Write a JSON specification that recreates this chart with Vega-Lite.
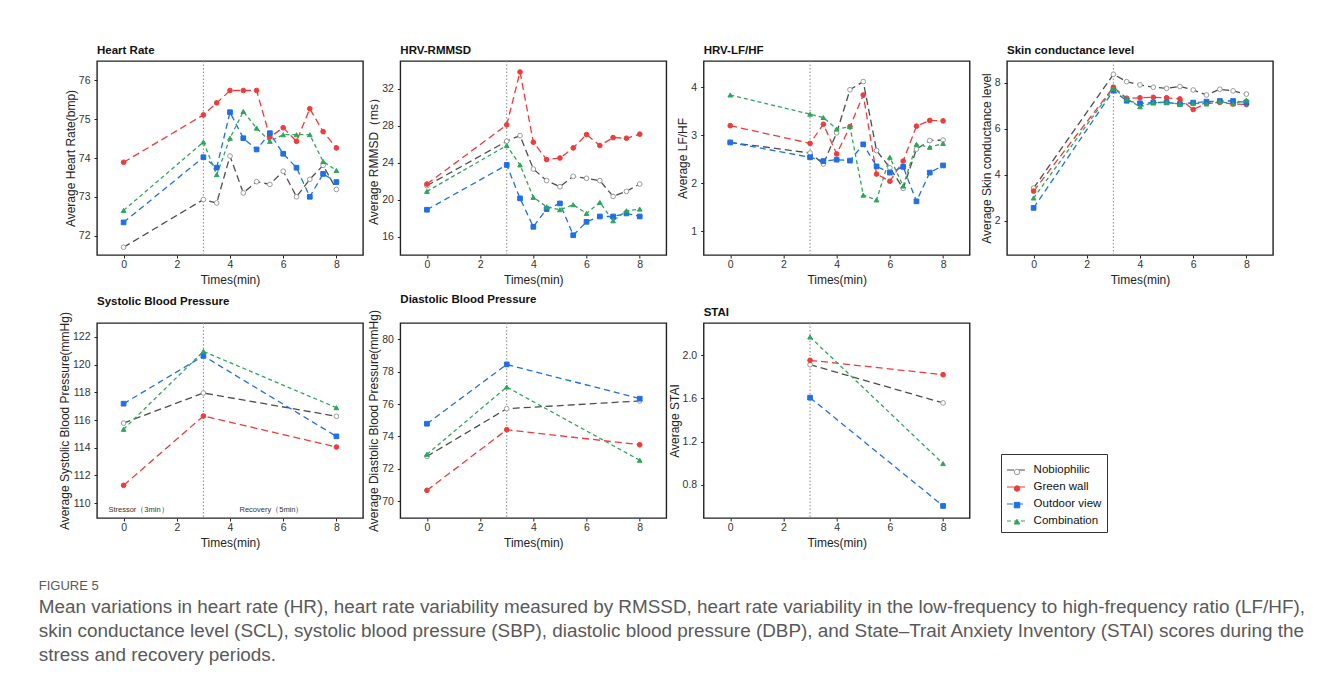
{
  "$schema": "https://vega.github.io/schema/vega-lite/v6.json",
  "background": "white",
  "padding": {"left": 38, "top": 44, "right": 5, "bottom": 5},
  "bounds": "flush",
  "columns": 4,
  "spacing": {"row": 68, "column": 37.33},
  "title": {
    "text": "FIGURE 5",
    "subtitle": [
      "Mean variations in heart rate (HR), heart rate variability measured by RMSSD, heart rate variability in the low-frequency to high-frequency ratio (LF/HF),",
      "skin conductance level (SCL), systolic blood pressure (SBP), diastolic blood pressure (DBP), and State–Trait Anxiety Inventory (STAI) scores during the",
      "stress and recovery periods."
    ],
    "orient": "bottom", "anchor": "start", "frame": "bounds",
    "dx": -19, "offset": 31,
    "font": "Liberation Sans", "fontSize": 13, "fontWeight": "normal", "color": "#595959",
    "subtitleFont": "Liberation Sans", "subtitleFontSize": 18.9, "subtitleColor": "#595959",
    "subtitleLineHeight": 24, "subtitlePadding": 5
  },
  "datasets": {
    "hr": [
      {"group":"Nobiophilic","time":0,"value":71.7},{"group":"Nobiophilic","time":3,"value":72.93},{"group":"Nobiophilic","time":3.5,"value":72.84},{"group":"Nobiophilic","time":4,"value":74.05},{"group":"Nobiophilic","time":4.5,"value":73.1},{"group":"Nobiophilic","time":5,"value":73.39},{"group":"Nobiophilic","time":5.5,"value":73.32},{"group":"Nobiophilic","time":6,"value":73.66},{"group":"Nobiophilic","time":6.5,"value":73.0},{"group":"Nobiophilic","time":7,"value":73.45},{"group":"Nobiophilic","time":7.5,"value":73.81},{"group":"Nobiophilic","time":8,"value":73.19},
      {"group":"Green wall","time":0,"value":73.89},{"group":"Green wall","time":3,"value":75.11},{"group":"Green wall","time":3.5,"value":75.42},{"group":"Green wall","time":4,"value":75.74},{"group":"Green wall","time":4.5,"value":75.74},{"group":"Green wall","time":5,"value":75.74},{"group":"Green wall","time":5.5,"value":74.54},{"group":"Green wall","time":6,"value":74.78},{"group":"Green wall","time":6.5,"value":74.43},{"group":"Green wall","time":7,"value":75.27},{"group":"Green wall","time":7.5,"value":74.68},{"group":"Green wall","time":8,"value":74.26},
      {"group":"Outdoor view","time":0,"value":72.34},{"group":"Outdoor view","time":3,"value":74.02},{"group":"Outdoor view","time":3.5,"value":73.75},{"group":"Outdoor view","time":4,"value":75.18},{"group":"Outdoor view","time":4.5,"value":74.51},{"group":"Outdoor view","time":5,"value":74.22},{"group":"Outdoor view","time":5.5,"value":74.64},{"group":"Outdoor view","time":6,"value":74.11},{"group":"Outdoor view","time":6.5,"value":73.75},{"group":"Outdoor view","time":7,"value":73.0},{"group":"Outdoor view","time":7.5,"value":73.59},{"group":"Outdoor view","time":8,"value":73.38},
      {"group":"Combination","time":0,"value":72.65},{"group":"Combination","time":3,"value":74.41},{"group":"Combination","time":3.5,"value":73.57},{"group":"Combination","time":4,"value":74.51},{"group":"Combination","time":4.5,"value":75.2},{"group":"Combination","time":5,"value":74.77},{"group":"Combination","time":5.5,"value":74.43},{"group":"Combination","time":6,"value":74.6},{"group":"Combination","time":6.5,"value":74.6},{"group":"Combination","time":7,"value":74.6},{"group":"Combination","time":7.5,"value":73.91},{"group":"Combination","time":8,"value":73.68}
    ],
    "rmssd": [
      {"group":"Nobiophilic","time":0,"value":21.5},{"group":"Nobiophilic","time":3,"value":26.32},{"group":"Nobiophilic","time":3.5,"value":26.93},{"group":"Nobiophilic","time":4,"value":23.31},{"group":"Nobiophilic","time":4.5,"value":22.05},{"group":"Nobiophilic","time":5,"value":21.39},{"group":"Nobiophilic","time":5.5,"value":22.52},{"group":"Nobiophilic","time":6,"value":22.3},{"group":"Nobiophilic","time":6.5,"value":22.05},{"group":"Nobiophilic","time":7,"value":20.34},{"group":"Nobiophilic","time":7.5,"value":20.89},{"group":"Nobiophilic","time":8,"value":21.68},
      {"group":"Green wall","time":0,"value":21.68},{"group":"Green wall","time":3,"value":28.09},{"group":"Green wall","time":3.5,"value":33.81},{"group":"Green wall","time":4,"value":26.21},{"group":"Green wall","time":4.5,"value":24.33},{"group":"Green wall","time":5,"value":24.5},{"group":"Green wall","time":5.5,"value":25.59},{"group":"Green wall","time":6,"value":27.04},{"group":"Green wall","time":6.5,"value":25.85},{"group":"Green wall","time":7,"value":26.71},{"group":"Green wall","time":7.5,"value":26.64},{"group":"Green wall","time":8,"value":27.08},
      {"group":"Outdoor view","time":0,"value":18.9},{"group":"Outdoor view","time":3,"value":23.75},{"group":"Outdoor view","time":3.5,"value":20.13},{"group":"Outdoor view","time":4,"value":17.05},{"group":"Outdoor view","time":4.5,"value":18.97},{"group":"Outdoor view","time":5,"value":19.58},{"group":"Outdoor view","time":5.5,"value":16.14},{"group":"Outdoor view","time":6,"value":17.59},{"group":"Outdoor view","time":6.5,"value":18.17},{"group":"Outdoor view","time":7,"value":18.17},{"group":"Outdoor view","time":7.5,"value":18.5},{"group":"Outdoor view","time":8,"value":18.17},
      {"group":"Combination","time":0,"value":20.89},{"group":"Combination","time":3,"value":25.85},{"group":"Combination","time":3.5,"value":23.75},{"group":"Combination","time":4,"value":20.24},{"group":"Combination","time":4.5,"value":19.22},{"group":"Combination","time":5,"value":18.9},{"group":"Combination","time":5.5,"value":19.44},{"group":"Combination","time":6,"value":18.5},{"group":"Combination","time":6.5,"value":19.69},{"group":"Combination","time":7,"value":17.7},{"group":"Combination","time":7.5,"value":18.79},{"group":"Combination","time":8,"value":18.97}
    ],
    "lfhf": [
      {"group":"Nobiophilic","time":0,"value":2.85},{"group":"Nobiophilic","time":3,"value":2.63},{"group":"Nobiophilic","time":3.5,"value":2.4},{"group":"Nobiophilic","time":4,"value":3.05},{"group":"Nobiophilic","time":4.5,"value":3.95},{"group":"Nobiophilic","time":5,"value":4.12},{"group":"Nobiophilic","time":5.5,"value":2.68},{"group":"Nobiophilic","time":6,"value":2.32},{"group":"Nobiophilic","time":6.5,"value":1.89},{"group":"Nobiophilic","time":7,"value":2.71},{"group":"Nobiophilic","time":7.5,"value":2.89},{"group":"Nobiophilic","time":8,"value":2.9},
      {"group":"Green wall","time":0,"value":3.2},{"group":"Green wall","time":3,"value":2.83},{"group":"Green wall","time":3.5,"value":3.23},{"group":"Green wall","time":4,"value":2.61},{"group":"Green wall","time":4.5,"value":3.18},{"group":"Green wall","time":5,"value":3.84},{"group":"Green wall","time":5.5,"value":2.19},{"group":"Green wall","time":6,"value":2.04},{"group":"Green wall","time":6.5,"value":2.46},{"group":"Green wall","time":7,"value":3.19},{"group":"Green wall","time":7.5,"value":3.31},{"group":"Green wall","time":8,"value":3.3},
      {"group":"Outdoor view","time":0,"value":2.85},{"group":"Outdoor view","time":3,"value":2.54},{"group":"Outdoor view","time":3.5,"value":2.46},{"group":"Outdoor view","time":4,"value":2.49},{"group":"Outdoor view","time":4.5,"value":2.47},{"group":"Outdoor view","time":5,"value":2.81},{"group":"Outdoor view","time":5.5,"value":2.35},{"group":"Outdoor view","time":6,"value":2.22},{"group":"Outdoor view","time":6.5,"value":2.34},{"group":"Outdoor view","time":7,"value":1.62},{"group":"Outdoor view","time":7.5,"value":2.22},{"group":"Outdoor view","time":8,"value":2.37},
      {"group":"Combination","time":0,"value":3.84},{"group":"Combination","time":3,"value":3.44},{"group":"Combination","time":3.5,"value":3.37},{"group":"Combination","time":4,"value":3.13},{"group":"Combination","time":4.5,"value":3.18},{"group":"Combination","time":5,"value":1.75},{"group":"Combination","time":5.5,"value":1.65},{"group":"Combination","time":6,"value":2.54},{"group":"Combination","time":6.5,"value":1.94},{"group":"Combination","time":7,"value":2.81},{"group":"Combination","time":7.5,"value":2.75},{"group":"Combination","time":8,"value":2.83}
    ],
    "scl": [
      {"group":"Nobiophilic","time":0,"value":3.41},{"group":"Nobiophilic","time":3,"value":8.36},{"group":"Nobiophilic","time":3.5,"value":8.04},{"group":"Nobiophilic","time":4,"value":7.9},{"group":"Nobiophilic","time":4.5,"value":7.8},{"group":"Nobiophilic","time":5,"value":7.75},{"group":"Nobiophilic","time":5.5,"value":7.83},{"group":"Nobiophilic","time":6,"value":7.68},{"group":"Nobiophilic","time":6.5,"value":7.46},{"group":"Nobiophilic","time":7,"value":7.71},{"group":"Nobiophilic","time":7.5,"value":7.64},{"group":"Nobiophilic","time":8,"value":7.5},
      {"group":"Green wall","time":0,"value":3.28},{"group":"Green wall","time":3,"value":7.8},{"group":"Green wall","time":3.5,"value":7.32},{"group":"Green wall","time":4,"value":7.34},{"group":"Green wall","time":4.5,"value":7.36},{"group":"Green wall","time":5,"value":7.34},{"group":"Green wall","time":5.5,"value":7.29},{"group":"Green wall","time":6,"value":6.83},{"group":"Green wall","time":6.5,"value":7.1},{"group":"Green wall","time":7,"value":7.14},{"group":"Green wall","time":7.5,"value":7.07},{"group":"Green wall","time":8,"value":7.05},
      {"group":"Outdoor view","time":0,"value":2.55},{"group":"Outdoor view","time":3,"value":7.65},{"group":"Outdoor view","time":3.5,"value":7.21},{"group":"Outdoor view","time":4,"value":7.1},{"group":"Outdoor view","time":4.5,"value":7.13},{"group":"Outdoor view","time":5,"value":7.14},{"group":"Outdoor view","time":5.5,"value":7.07},{"group":"Outdoor view","time":6,"value":7.13},{"group":"Outdoor view","time":6.5,"value":7.17},{"group":"Outdoor view","time":7,"value":7.2},{"group":"Outdoor view","time":7.5,"value":7.2},{"group":"Outdoor view","time":8,"value":7.14},
      {"group":"Combination","time":0,"value":2.98},{"group":"Combination","time":3,"value":7.75},{"group":"Combination","time":3.5,"value":7.29},{"group":"Combination","time":4,"value":6.95},{"group":"Combination","time":4.5,"value":7.13},{"group":"Combination","time":5,"value":7.14},{"group":"Combination","time":5.5,"value":7.07},{"group":"Combination","time":6,"value":7.1},{"group":"Combination","time":6.5,"value":7.07},{"group":"Combination","time":7,"value":7.17},{"group":"Combination","time":7.5,"value":7.08},{"group":"Combination","time":8,"value":7.24}
    ],
    "sbp": [
      {"group":"Nobiophilic","time":0,"value":115.78},{"group":"Nobiophilic","time":3,"value":117.95},{"group":"Nobiophilic","time":8,"value":116.27},
      {"group":"Green wall","time":0,"value":111.28},{"group":"Green wall","time":3,"value":116.29},{"group":"Green wall","time":8,"value":114.05},
      {"group":"Outdoor view","time":0,"value":117.18},{"group":"Outdoor view","time":3,"value":120.63},{"group":"Outdoor view","time":8,"value":114.82},
      {"group":"Combination","time":0,"value":115.33},{"group":"Combination","time":3,"value":120.96},{"group":"Combination","time":8,"value":116.89}
    ],
    "dbp": [
      {"group":"Nobiophilic","time":0,"value":72.76},{"group":"Nobiophilic","time":3,"value":75.71},{"group":"Nobiophilic","time":8,"value":76.19},
      {"group":"Green wall","time":0,"value":70.66},{"group":"Green wall","time":3,"value":74.41},{"group":"Green wall","time":8,"value":73.48},
      {"group":"Outdoor view","time":0,"value":74.78},{"group":"Outdoor view","time":3,"value":78.45},{"group":"Outdoor view","time":8,"value":76.33},
      {"group":"Combination","time":0,"value":72.89},{"group":"Combination","time":3,"value":77.05},{"group":"Combination","time":8,"value":72.52}
    ],
    "stai": [
      {"group":"Nobiophilic","time":3,"value":1.913},{"group":"Nobiophilic","time":8,"value":1.558},
      {"group":"Green wall","time":3,"value":1.954},{"group":"Green wall","time":8,"value":1.82},
      {"group":"Outdoor view","time":3,"value":1.607},{"group":"Outdoor view","time":8,"value":0.602},
      {"group":"Combination","time":3,"value":2.17},{"group":"Combination","time":8,"value":0.995}
    ],
    "marker": [{"time": 3}],
    "notes": [
      {"label": "Stressor（3min）", "time": 0.56, "value": 109.5},
      {"label": "Recovery（5min）", "time": 5.56, "value": 109.5}
    ]
  },
  "concat": [
    {
      "title": "Heart Rate",
      "width": 266, "height": 194,
      "layer": [
        {"data": {"name": "marker"}, "mark": {"type": "rule", "color": "#888", "strokeDash": [1.5, 2], "strokeWidth": 1},
         "encoding": {"x": {"field": "time", "type": "quantitative", "title": "Times(min)", "scale": {"domain": [-1, 9], "nice": false}, "axis": {"values": [0, 2, 4, 6, 8]}}}},
        {"data": {"name": "hr"}, "mark": {"type": "line", "strokeWidth": 1.3},
         "encoding": {
           "x": {"field": "time", "type": "quantitative", "title": "Times(min)", "scale": {"domain": [-1, 9], "nice": false}, "axis": {"values": [0, 2, 4, 6, 8]}},
           "y": {"field": "value", "type": "quantitative", "title": "Average Heart Rate(bmp)", "scale": {"domain": [71.5, 76.5], "nice": false, "zero": false}, "axis": {"values": [72, 73, 74, 75, 76]}},
           "color": {"field": "group", "type": "nominal", "scale": {"domain": ["Green wall", "Nobiophilic", "Outdoor view", "Combination"], "range": ["#EE3B3B", "#4d4d4d", "#1F6FE5", "#2EA65A"]},
             "legend": {"title": null, "values": ["Nobiophilic", "Green wall", "Outdoor view", "Combination"], "orient": "none", "legendX": 904, "legendY": 393, "symbolType": "stroke", "symbolSize": 400, "symbolStrokeWidth": 1.2, "padding": 5, "labelOffset": 5.6, "rowPadding": -8, "strokeColor": "#333", "fillColor": "transparent", "labelFontSize": 11.5, "labelColor": "#111"}},
           "strokeDash": {"field": "group", "type": "nominal", "scale": {"domain": ["Green wall", "Nobiophilic", "Outdoor view", "Combination"], "range": [[7, 4], [7, 4], [6, 4], [4, 3]]},
             "legend": {"title": null, "values": ["Nobiophilic", "Green wall", "Outdoor view", "Combination"], "orient": "none", "legendX": 904, "legendY": 393, "symbolType": "stroke", "symbolSize": 400, "symbolStrokeWidth": 1.2, "padding": 5, "labelOffset": 5.6, "rowPadding": -8, "strokeColor": "#333", "fillColor": "transparent", "labelFontSize": 11.5, "labelColor": "#111"}}
         }},
        {"data": {"name": "hr"}, "mark": {"type": "point", "filled": true, "opacity": 1, "size": 22, "strokeWidth": 1},
         "encoding": {
           "x": {"field": "time", "type": "quantitative", "title": "Times(min)", "scale": {"domain": [-1, 9], "nice": false}, "axis": {"values": [0, 2, 4, 6, 8]}},
           "y": {"field": "value", "type": "quantitative", "title": "Average Heart Rate(bmp)", "scale": {"domain": [71.5, 76.5], "nice": false, "zero": false}, "axis": {"values": [72, 73, 74, 75, 76]}},
           "fill": {"field": "group", "type": "nominal", "scale": {"domain": ["Nobiophilic", "Green wall", "Outdoor view", "Combination"], "range": ["#ffffff", "#EE3B3B", "#1F6FE5", "#2EA65A"]},
             "legend": {"title": null, "orient": "none", "legendX": 909.25, "legendY": 400.25, "symbolSize": 30, "symbolStrokeWidth": 1, "padding": 5, "labelOffset": -3, "rowPadding": 3.55, "strokeColor": "transparent", "fillColor": "transparent", "labelExpr": "' '", "labelOpacity": 0, "labelFontSize": 11.5}},
           "stroke": {"field": "group", "type": "nominal", "scale": {"domain": ["Nobiophilic", "Green wall", "Outdoor view", "Combination"], "range": ["#9a9a9a", "#EE3B3B", "#1F6FE5", "#2EA65A"]},
             "legend": {"title": null, "orient": "none", "legendX": 909.25, "legendY": 400.25, "symbolSize": 30, "symbolStrokeWidth": 1, "padding": 5, "labelOffset": -3, "rowPadding": 3.55, "strokeColor": "transparent", "fillColor": "transparent", "labelExpr": "' '", "labelOpacity": 0, "labelFontSize": 11.5}},
           "shape": {"field": "group", "type": "nominal", "scale": {"domain": ["Nobiophilic", "Green wall", "Outdoor view", "Combination"], "range": ["circle", "circle", "square", "triangle-up"]},
             "legend": {"title": null, "orient": "none", "legendX": 909.25, "legendY": 400.25, "symbolSize": 30, "symbolStrokeWidth": 1, "padding": 5, "labelOffset": -3, "rowPadding": 3.55, "strokeColor": "transparent", "fillColor": "transparent", "labelExpr": "' '", "labelOpacity": 0, "labelFontSize": 11.5}}
         }}
      ]
    },
    {
      "title": "HRV-RMMSD",
      "width": 266, "height": 194,
      "layer": [
        {"data": {"name": "marker"}, "mark": {"type": "rule", "color": "#888", "strokeDash": [1.5, 2], "strokeWidth": 1},
         "encoding": {"x": {"field": "time", "type": "quantitative", "title": "Times(min)", "scale": {"domain": [-1, 9], "nice": false}, "axis": {"values": [0, 2, 4, 6, 8]}}}},
        {"data": {"name": "rmssd"}, "mark": {"type": "line", "strokeWidth": 1.3},
         "encoding": {
           "x": {"field": "time", "type": "quantitative", "title": "Times(min)", "scale": {"domain": [-1, 9], "nice": false}, "axis": {"values": [0, 2, 4, 6, 8]}},
           "y": {"field": "value", "type": "quantitative", "title": "Average RMMSD（ms）", "scale": {"domain": [14, 35], "nice": false, "zero": false}, "axis": {"values": [16, 20, 24, 28, 32]}},
           "color": {"field": "group", "type": "nominal", "scale": {"domain": ["Green wall", "Nobiophilic", "Outdoor view", "Combination"], "range": ["#EE3B3B", "#4d4d4d", "#1F6FE5", "#2EA65A"]}, "legend": {"title": null}},
           "strokeDash": {"field": "group", "type": "nominal", "scale": {"domain": ["Green wall", "Nobiophilic", "Outdoor view", "Combination"], "range": [[7, 4], [7, 4], [6, 4], [4, 3]]}, "legend": {"title": null}}
         }},
        {"data": {"name": "rmssd"}, "mark": {"type": "point", "filled": true, "opacity": 1, "size": 22, "strokeWidth": 1},
         "encoding": {
           "x": {"field": "time", "type": "quantitative", "title": "Times(min)", "scale": {"domain": [-1, 9], "nice": false}, "axis": {"values": [0, 2, 4, 6, 8]}},
           "y": {"field": "value", "type": "quantitative", "title": "Average RMMSD（ms）", "scale": {"domain": [14, 35], "nice": false, "zero": false}, "axis": {"values": [16, 20, 24, 28, 32]}},
           "fill": {"field": "group", "type": "nominal", "scale": {"domain": ["Nobiophilic", "Green wall", "Outdoor view", "Combination"], "range": ["#ffffff", "#EE3B3B", "#1F6FE5", "#2EA65A"]}, "legend": {"title": null}},
           "stroke": {"field": "group", "type": "nominal", "scale": {"domain": ["Nobiophilic", "Green wall", "Outdoor view", "Combination"], "range": ["#9a9a9a", "#EE3B3B", "#1F6FE5", "#2EA65A"]}, "legend": {"title": null}},
           "shape": {"field": "group", "type": "nominal", "scale": {"domain": ["Nobiophilic", "Green wall", "Outdoor view", "Combination"], "range": ["circle", "circle", "square", "triangle-up"]}, "legend": {"title": null}}
         }}
      ]
    },
    {
      "title": "HRV-LF/HF",
      "width": 266, "height": 194,
      "layer": [
        {"data": {"name": "marker"}, "mark": {"type": "rule", "color": "#888", "strokeDash": [1.5, 2], "strokeWidth": 1},
         "encoding": {"x": {"field": "time", "type": "quantitative", "title": "Times(min)", "scale": {"domain": [-1, 9], "nice": false}, "axis": {"values": [0, 2, 4, 6, 8]}}}},
        {"data": {"name": "lfhf"}, "mark": {"type": "line", "strokeWidth": 1.3},
         "encoding": {
           "x": {"field": "time", "type": "quantitative", "title": "Times(min)", "scale": {"domain": [-1, 9], "nice": false}, "axis": {"values": [0, 2, 4, 6, 8]}},
           "y": {"field": "value", "type": "quantitative", "title": "Average LF/HF", "scale": {"domain": [0.5, 4.55], "nice": false, "zero": false}, "axis": {"values": [1, 2, 3, 4]}},
           "color": {"field": "group", "type": "nominal", "scale": {"domain": ["Green wall", "Nobiophilic", "Outdoor view", "Combination"], "range": ["#EE3B3B", "#4d4d4d", "#1F6FE5", "#2EA65A"]}, "legend": {"title": null}},
           "strokeDash": {"field": "group", "type": "nominal", "scale": {"domain": ["Green wall", "Nobiophilic", "Outdoor view", "Combination"], "range": [[7, 4], [7, 4], [6, 4], [4, 3]]}, "legend": {"title": null}}
         }},
        {"data": {"name": "lfhf"}, "mark": {"type": "point", "filled": true, "opacity": 1, "size": 22, "strokeWidth": 1},
         "encoding": {
           "x": {"field": "time", "type": "quantitative", "title": "Times(min)", "scale": {"domain": [-1, 9], "nice": false}, "axis": {"values": [0, 2, 4, 6, 8]}},
           "y": {"field": "value", "type": "quantitative", "title": "Average LF/HF", "scale": {"domain": [0.5, 4.55], "nice": false, "zero": false}, "axis": {"values": [1, 2, 3, 4]}},
           "fill": {"field": "group", "type": "nominal", "scale": {"domain": ["Nobiophilic", "Green wall", "Outdoor view", "Combination"], "range": ["#ffffff", "#EE3B3B", "#1F6FE5", "#2EA65A"]}, "legend": {"title": null}},
           "stroke": {"field": "group", "type": "nominal", "scale": {"domain": ["Nobiophilic", "Green wall", "Outdoor view", "Combination"], "range": ["#9a9a9a", "#EE3B3B", "#1F6FE5", "#2EA65A"]}, "legend": {"title": null}},
           "shape": {"field": "group", "type": "nominal", "scale": {"domain": ["Nobiophilic", "Green wall", "Outdoor view", "Combination"], "range": ["circle", "circle", "square", "triangle-up"]}, "legend": {"title": null}}
         }}
      ]
    },
    {
      "title": "Skin conductance level",
      "width": 266, "height": 194,
      "layer": [
        {"data": {"name": "marker"}, "mark": {"type": "rule", "color": "#888", "strokeDash": [1.5, 2], "strokeWidth": 1},
         "encoding": {"x": {"field": "time", "type": "quantitative", "title": "Times(min)", "scale": {"domain": [-1, 9], "nice": false}, "axis": {"values": [0, 2, 4, 6, 8]}}}},
        {"data": {"name": "scl"}, "mark": {"type": "line", "strokeWidth": 1.3},
         "encoding": {
           "x": {"field": "time", "type": "quantitative", "title": "Times(min)", "scale": {"domain": [-1, 9], "nice": false}, "axis": {"values": [0, 2, 4, 6, 8]}},
           "y": {"field": "value", "type": "quantitative", "title": "Average Skin conductance level", "scale": {"domain": [0.5, 8.94], "nice": false, "zero": false}, "axis": {"values": [2, 4, 6, 8]}},
           "color": {"field": "group", "type": "nominal", "scale": {"domain": ["Green wall", "Nobiophilic", "Outdoor view", "Combination"], "range": ["#EE3B3B", "#4d4d4d", "#1F6FE5", "#2EA65A"]}, "legend": {"title": null}},
           "strokeDash": {"field": "group", "type": "nominal", "scale": {"domain": ["Green wall", "Nobiophilic", "Outdoor view", "Combination"], "range": [[7, 4], [7, 4], [6, 4], [4, 3]]}, "legend": {"title": null}}
         }},
        {"data": {"name": "scl"}, "mark": {"type": "point", "filled": true, "opacity": 1, "size": 22, "strokeWidth": 1},
         "encoding": {
           "x": {"field": "time", "type": "quantitative", "title": "Times(min)", "scale": {"domain": [-1, 9], "nice": false}, "axis": {"values": [0, 2, 4, 6, 8]}},
           "y": {"field": "value", "type": "quantitative", "title": "Average Skin conductance level", "scale": {"domain": [0.5, 8.94], "nice": false, "zero": false}, "axis": {"values": [2, 4, 6, 8]}},
           "fill": {"field": "group", "type": "nominal", "scale": {"domain": ["Nobiophilic", "Green wall", "Outdoor view", "Combination"], "range": ["#ffffff", "#EE3B3B", "#1F6FE5", "#2EA65A"]}, "legend": {"title": null}},
           "stroke": {"field": "group", "type": "nominal", "scale": {"domain": ["Nobiophilic", "Green wall", "Outdoor view", "Combination"], "range": ["#9a9a9a", "#EE3B3B", "#1F6FE5", "#2EA65A"]}, "legend": {"title": null}},
           "shape": {"field": "group", "type": "nominal", "scale": {"domain": ["Nobiophilic", "Green wall", "Outdoor view", "Combination"], "range": ["circle", "circle", "square", "triangle-up"]}, "legend": {"title": null}}
         }}
      ]
    },
    {
      "title": "Systolic Blood Pressure",
      "width": 266, "height": 195,
      "layer": [
        {"data": {"name": "marker"}, "mark": {"type": "rule", "color": "#888", "strokeDash": [1.5, 2], "strokeWidth": 1},
         "encoding": {"x": {"field": "time", "type": "quantitative", "title": "Times(min)", "scale": {"domain": [-1, 9], "nice": false}, "axis": {"values": [0, 2, 4, 6, 8]}}}},
        {"data": {"name": "notes"}, "mark": {"type": "text", "fontSize": 7.5, "color": "#333", "font": "Liberation Sans"},
         "encoding": {
           "x": {"field": "time", "type": "quantitative", "title": "Times(min)", "scale": {"domain": [-1, 9], "nice": false}, "axis": {"values": [0, 2, 4, 6, 8]}},
           "y": {"field": "value", "type": "quantitative", "title": "Average Systolic Blood Pressure(mmHg)", "scale": {"domain": [108.92, 123.01], "nice": false, "zero": false}, "axis": {"values": [110, 112, 114, 116, 118, 120, 122]}},
           "text": {"field": "label", "type": "nominal"}
         }},
        {"data": {"name": "sbp"}, "mark": {"type": "line", "strokeWidth": 1.3},
         "encoding": {
           "x": {"field": "time", "type": "quantitative", "title": "Times(min)", "scale": {"domain": [-1, 9], "nice": false}, "axis": {"values": [0, 2, 4, 6, 8]}},
           "y": {"field": "value", "type": "quantitative", "title": "Average Systolic Blood Pressure(mmHg)", "scale": {"domain": [108.92, 123.01], "nice": false, "zero": false}, "axis": {"values": [110, 112, 114, 116, 118, 120, 122]}},
           "color": {"field": "group", "type": "nominal", "scale": {"domain": ["Green wall", "Nobiophilic", "Outdoor view", "Combination"], "range": ["#EE3B3B", "#4d4d4d", "#1F6FE5", "#2EA65A"]}, "legend": {"title": null}},
           "strokeDash": {"field": "group", "type": "nominal", "scale": {"domain": ["Green wall", "Nobiophilic", "Outdoor view", "Combination"], "range": [[7, 4], [7, 4], [6, 4], [4, 3]]}, "legend": {"title": null}}
         }},
        {"data": {"name": "sbp"}, "mark": {"type": "point", "filled": true, "opacity": 1, "size": 22, "strokeWidth": 1},
         "encoding": {
           "x": {"field": "time", "type": "quantitative", "title": "Times(min)", "scale": {"domain": [-1, 9], "nice": false}, "axis": {"values": [0, 2, 4, 6, 8]}},
           "y": {"field": "value", "type": "quantitative", "title": "Average Systolic Blood Pressure(mmHg)", "scale": {"domain": [108.92, 123.01], "nice": false, "zero": false}, "axis": {"values": [110, 112, 114, 116, 118, 120, 122]}},
           "fill": {"field": "group", "type": "nominal", "scale": {"domain": ["Nobiophilic", "Green wall", "Outdoor view", "Combination"], "range": ["#ffffff", "#EE3B3B", "#1F6FE5", "#2EA65A"]}, "legend": {"title": null}},
           "stroke": {"field": "group", "type": "nominal", "scale": {"domain": ["Nobiophilic", "Green wall", "Outdoor view", "Combination"], "range": ["#9a9a9a", "#EE3B3B", "#1F6FE5", "#2EA65A"]}, "legend": {"title": null}},
           "shape": {"field": "group", "type": "nominal", "scale": {"domain": ["Nobiophilic", "Green wall", "Outdoor view", "Combination"], "range": ["circle", "circle", "square", "triangle-up"]}, "legend": {"title": null}}
         }}
      ]
    },
    {
      "title": "Diastolic Blood Pressure",
      "width": 266, "height": 195,
      "layer": [
        {"data": {"name": "marker"}, "mark": {"type": "rule", "color": "#888", "strokeDash": [1.5, 2], "strokeWidth": 1},
         "encoding": {"x": {"field": "time", "type": "quantitative", "title": "Times(min)", "scale": {"domain": [-1, 9], "nice": false}, "axis": {"values": [0, 2, 4, 6, 8]}}}},
        {"data": {"name": "dbp"}, "mark": {"type": "line", "strokeWidth": 1.3},
         "encoding": {
           "x": {"field": "time", "type": "quantitative", "title": "Times(min)", "scale": {"domain": [-1, 9], "nice": false}, "axis": {"values": [0, 2, 4, 6, 8]}},
           "y": {"field": "value", "type": "quantitative", "title": "Average Diastolic Blood Pressure(mmHg)", "scale": {"domain": [68.95, 81.01], "nice": false, "zero": false}, "axis": {"values": [70, 72, 74, 76, 78, 80]}},
           "color": {"field": "group", "type": "nominal", "scale": {"domain": ["Green wall", "Nobiophilic", "Outdoor view", "Combination"], "range": ["#EE3B3B", "#4d4d4d", "#1F6FE5", "#2EA65A"]}, "legend": {"title": null}},
           "strokeDash": {"field": "group", "type": "nominal", "scale": {"domain": ["Green wall", "Nobiophilic", "Outdoor view", "Combination"], "range": [[7, 4], [7, 4], [6, 4], [4, 3]]}, "legend": {"title": null}}
         }},
        {"data": {"name": "dbp"}, "mark": {"type": "point", "filled": true, "opacity": 1, "size": 22, "strokeWidth": 1},
         "encoding": {
           "x": {"field": "time", "type": "quantitative", "title": "Times(min)", "scale": {"domain": [-1, 9], "nice": false}, "axis": {"values": [0, 2, 4, 6, 8]}},
           "y": {"field": "value", "type": "quantitative", "title": "Average Diastolic Blood Pressure(mmHg)", "scale": {"domain": [68.95, 81.01], "nice": false, "zero": false}, "axis": {"values": [70, 72, 74, 76, 78, 80]}},
           "fill": {"field": "group", "type": "nominal", "scale": {"domain": ["Nobiophilic", "Green wall", "Outdoor view", "Combination"], "range": ["#ffffff", "#EE3B3B", "#1F6FE5", "#2EA65A"]}, "legend": {"title": null}},
           "stroke": {"field": "group", "type": "nominal", "scale": {"domain": ["Nobiophilic", "Green wall", "Outdoor view", "Combination"], "range": ["#9a9a9a", "#EE3B3B", "#1F6FE5", "#2EA65A"]}, "legend": {"title": null}},
           "shape": {"field": "group", "type": "nominal", "scale": {"domain": ["Nobiophilic", "Green wall", "Outdoor view", "Combination"], "range": ["circle", "circle", "square", "triangle-up"]}, "legend": {"title": null}}
         }}
      ]
    },
    {
      "title": "STAI",
      "width": 266, "height": 195,
      "layer": [
        {"data": {"name": "marker"}, "mark": {"type": "rule", "color": "#888", "strokeDash": [1.5, 2], "strokeWidth": 1},
         "encoding": {"x": {"field": "time", "type": "quantitative", "title": "Times(min)", "scale": {"domain": [-1, 9], "nice": false}, "axis": {"values": [0, 2, 4, 6, 8]}}}},
        {"data": {"name": "stai"}, "mark": {"type": "line", "strokeWidth": 1.3},
         "encoding": {
           "x": {"field": "time", "type": "quantitative", "title": "Times(min)", "scale": {"domain": [-1, 9], "nice": false}, "axis": {"values": [0, 2, 4, 6, 8]}},
           "y": {"field": "value", "type": "quantitative", "title": "Average STAI", "scale": {"domain": [0.49, 2.3], "nice": false, "zero": false}, "axis": {"values": [0.8, 1.2, 1.6, 2.0], "format": ".1f"}},
           "color": {"field": "group", "type": "nominal", "scale": {"domain": ["Green wall", "Nobiophilic", "Outdoor view", "Combination"], "range": ["#EE3B3B", "#4d4d4d", "#1F6FE5", "#2EA65A"]}, "legend": {"title": null}},
           "strokeDash": {"field": "group", "type": "nominal", "scale": {"domain": ["Green wall", "Nobiophilic", "Outdoor view", "Combination"], "range": [[7, 4], [7, 4], [6, 4], [4, 3]]}, "legend": {"title": null}}
         }},
        {"data": {"name": "stai"}, "mark": {"type": "point", "filled": true, "opacity": 1, "size": 22, "strokeWidth": 1},
         "encoding": {
           "x": {"field": "time", "type": "quantitative", "title": "Times(min)", "scale": {"domain": [-1, 9], "nice": false}, "axis": {"values": [0, 2, 4, 6, 8]}},
           "y": {"field": "value", "type": "quantitative", "title": "Average STAI", "scale": {"domain": [0.49, 2.3], "nice": false, "zero": false}, "axis": {"values": [0.8, 1.2, 1.6, 2.0], "format": ".1f"}},
           "fill": {"field": "group", "type": "nominal", "scale": {"domain": ["Nobiophilic", "Green wall", "Outdoor view", "Combination"], "range": ["#ffffff", "#EE3B3B", "#1F6FE5", "#2EA65A"]}, "legend": {"title": null}},
           "stroke": {"field": "group", "type": "nominal", "scale": {"domain": ["Nobiophilic", "Green wall", "Outdoor view", "Combination"], "range": ["#9a9a9a", "#EE3B3B", "#1F6FE5", "#2EA65A"]}, "legend": {"title": null}},
           "shape": {"field": "group", "type": "nominal", "scale": {"domain": ["Nobiophilic", "Green wall", "Outdoor view", "Combination"], "range": ["circle", "circle", "square", "triangle-up"]}, "legend": {"title": null}}
         }}
      ]
    }
  ],
  "config": {
    "font": "Liberation Sans",
    "view": {"stroke": "#222", "strokeWidth": 1.4},
    "axis": {"grid": false, "domain": false, "tickColor": "#222", "tickSize": 3, "tickWidth": 1,
             "labelFont": "Liberation Sans", "labelFontSize": 10.5, "labelColor": "#333",
             "titleFont": "Liberation Sans", "titleFontSize": 12, "titleFontWeight": "normal", "titleColor": "#222"},
    "axisX": {"labelPadding": 1, "titlePadding": 5},
    "axisY": {"labelPadding": 4, "titlePadding": 1},
    "legend": {"orient": "none", "labelFont": "Liberation Sans", "labelFontSize": 11.5, "labelColor": "#111"},
    "title": {"anchor": "start", "frame": "group", "font": "Liberation Sans", "fontSize": 11.5, "fontWeight": "bold", "color": "#111", "offset": 4}
  }
}
